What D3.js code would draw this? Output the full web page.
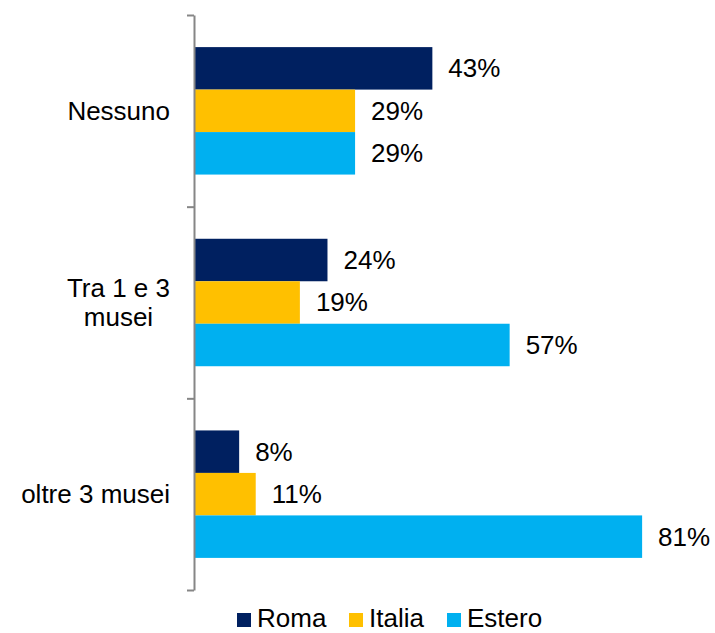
<!DOCTYPE html>
<html>
<head>
<meta charset="utf-8">
<script src="https://cdn.jsdelivr.net/npm/d3@7"></script>
<style>
  html, body { margin: 0; padding: 0; background: #fff; }
  svg { display: block; }
  text { font-family: "Liberation Sans", Arial, sans-serif; fill: #000; }
</style>
</head>
<body>
<svg id="chart" width="715" height="633"></svg>
<script>
// Visite ai musei: quota di rispondenti per provenienza
const categories = ["Nessuno", "Tra 1 e 3 musei", "oltre 3 musei"];
const categoryLines = [["Nessuno"], ["Tra 1 e 3", "musei"], ["oltre 3 musei"]];
const series = ["Roma", "Italia", "Estero"];
const colors = ["#002060", "#FFC000", "#00B0F0"];
const roma   = [43, 24, 8];
const italia = [29, 19, 11];
const estero = [29, 57, 81];
const values = [roma, italia, estero];

const svg = d3.select("#chart");
const fontSize = 26;

const plot = { left: 195, top: 15, bottom: 590 };

const x = d3.scaleLinear().domain([0, 100]).range([plot.left, plot.left + 552]);

const y0 = d3.scaleBand()
  .domain(categories)
  .range([plot.top, plot.bottom])
  .paddingInner(0.335)
  .paddingOuter(0.1675);

const y1 = d3.scaleBand()
  .domain(series)
  .range([0, y0.bandwidth()]);

// Bars
const groups = svg.append("g")
  .selectAll("g")
  .data(categories)
  .join("g")
  .attr("transform", c => `translate(0,${y0(c)})`);

groups.selectAll("rect")
  .data((c, ci) => series.map((s, si) => ({ s, si, v: values[si][ci] })))
  .join("rect")
  .attr("x", x(0))
  .attr("y", d => y1(d.s))
  .attr("width", d => x(d.v) - x(0))
  .attr("height", y1.bandwidth())
  .attr("fill", d => colors[d.si]);

// Value labels
groups.selectAll("text.val")
  .data((c, ci) => series.map((s, si) => ({ s, si, v: values[si][ci] })))
  .join("text")
  .attr("class", "val")
  .attr("x", d => x(d.v) + 16)
  .attr("y", d => y1(d.s) + y1.bandwidth() / 2 + 9)
  .style("font-size", fontSize + "px")
  .text(d => d.v + "%");

// Category axis with ticks between groups
const yTicks = d3.scaleLinear().domain([0, categories.length]).range([plot.top, plot.bottom]);
const axis = svg.append("g")
  .attr("transform", `translate(${plot.left - 1},0)`)
  .call(d3.axisLeft(yTicks).tickValues(d3.range(categories.length + 1)).tickSize(7).tickSizeOuter(0).tickFormat(""));
axis.select(".domain").attr("stroke", "#868686").attr("stroke-width", 2);
axis.selectAll(".tick line").attr("stroke", "#868686").attr("stroke-width", 2);

// Category labels (multi-line labels centred on each other)
const labelRight = 170;
const lineH = 29;
categories.forEach((c, i) => {
  const lines = categoryLines[i];
  const cy = y0(c) + y0.bandwidth() / 2;
  const t = svg.append("text").style("font-size", fontSize + "px");
  const spans = lines.map((ln, li) =>
    t.append("tspan")
      .attr("x", 0)
      .attr("y", cy + 9 + (li - (lines.length - 1) / 2) * lineH)
      .text(ln));
  if (lines.length === 1) {
    t.attr("text-anchor", "end");
    spans.forEach(sp => sp.attr("x", labelRight));
  } else {
    const w = d3.max(spans, sp => sp.node().getComputedTextLength());
    t.attr("text-anchor", "middle");
    spans.forEach(sp => sp.attr("x", labelRight - w / 2));
  }
});

// Legend
const legendX = [237, 349, 447];
const legend = svg.append("g");
series.forEach((s, i) => {
  legend.append("rect")
    .attr("x", legendX[i]).attr("y", 613)
    .attr("width", 14).attr("height", 14)
    .attr("fill", colors[i]);
  legend.append("text")
    .attr("x", legendX[i] + 20).attr("y", 627)
    .style("font-size", fontSize + "px")
    .text(s);
});
</script>
</body>
</html>
